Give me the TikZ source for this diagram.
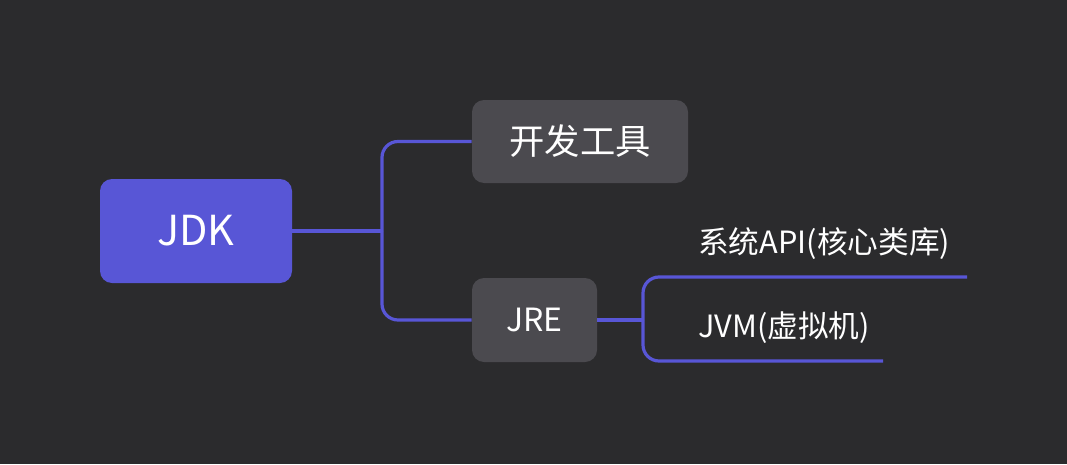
\documentclass[tikz,border=0pt]{standalone}
\usepackage{fontspec}
\setmainfont{Noto Sans CJK SC}
\definecolor{bg}{HTML}{2B2B2D}
\definecolor{purp}{HTML}{5856D6}
\definecolor{boxgray}{HTML}{4B4A4F}
\tikzset{
  rootbox/.style={fill=purp, rounded corners=9pt, text=white, inner sep=0pt, minimum width=144pt, minimum height=78pt, font=\fontsize{31}{36}\selectfont},
  topicbox/.style={fill=boxgray, rounded corners=9pt, text=white, inner sep=0pt},
  leaf/.style={text=white, inner sep=0pt, font=\fontsize{23}{27}\selectfont},
  conn/.style={draw=purp, line width=2.4pt, rounded corners=12pt},
}
\begin{document}
\begin{tikzpicture}[x=0.75pt, y=-0.75pt]
\fill[bg] (0,0) rectangle (1067,464);
\useasboundingbox (0,0) rectangle (1067,464);
\node[rootbox] (jdk) at (196,231) {JDK};
\node[topicbox, minimum width=162pt, minimum height=62.25pt, font=\fontsize{26.5}{30}\selectfont] (kf) at (580,141.5) {开发工具};
\node[topicbox, minimum width=93.75pt, minimum height=63pt, font=\fontsize{24}{28}\selectfont] (jre) at (534.5,320) {JRE};
\coordinate (j1) at (382,231);
\coordinate (j2) at (643,320);
\coordinate (e1) at (967,277);
\coordinate (e2) at (883,361);
\node[leaf, anchor=west] (api) at (698,244) {系统API(核心类库)};
\node[leaf, anchor=west] (jvm) at (698,328) {JVM(虚拟机)};
\draw[conn] (jdk.east) -- (j1);
\draw[conn] (j1) |- (kf.west);
\draw[conn] (j1) |- (jre.west);
\draw[conn] (jre.east) -- (j2);
\draw[conn] (j2) |- (e1);
\draw[conn] (j2) |- (e2);
\end{tikzpicture}
\end{document}
